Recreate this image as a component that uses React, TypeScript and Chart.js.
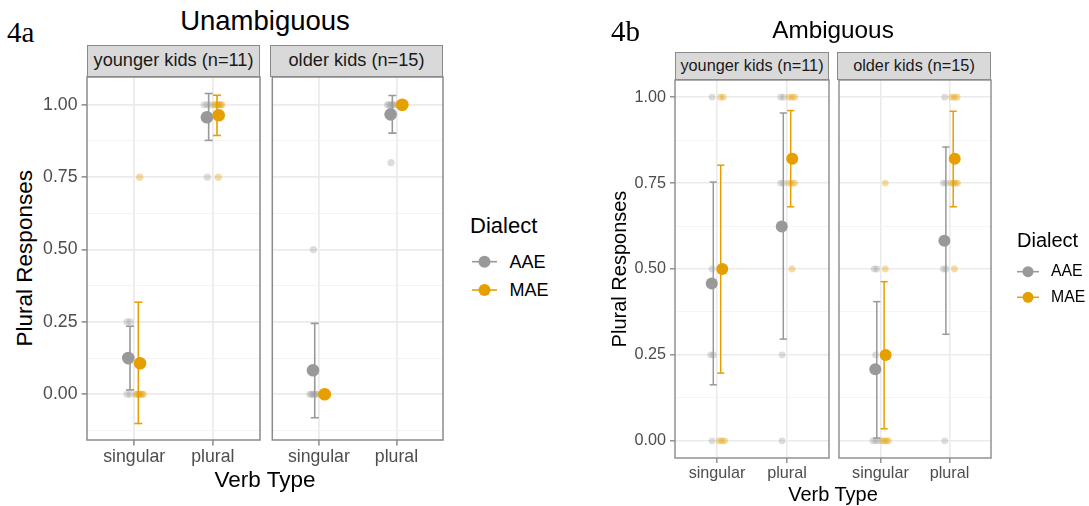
import React, { useEffect, useRef } from 'react';
import { Chart, registerables } from 'chart.js';

Chart.register(...registerables);

const SANS = '"Liberation Sans", Arial, Helvetica, sans-serif';
const SERIF = '"Liberation Serif", "Times New Roman", serif';

// ---------------- data ----------------
const CATEGORIES = ['singular', 'plural'];
const DIALECTS = ['AAE', 'MAE'];
const FACETS = ['younger kids (n=11)', 'older kids (n=15)'];
const Y_TICK_VALUES = [0, 0.25, 0.5, 0.75, 1];
const Y_TICK_LABELS = ['0.00', '0.25', '0.50', '0.75', '1.00'];

// 4a Unambiguous — values per category [singular, plural]
const UNAMB_YOUNG_AAE_MEAN = [0.125, 0.957];
const UNAMB_YOUNG_AAE_LO = [0.015, 0.877];
const UNAMB_YOUNG_AAE_HI = [0.235, 1.039];
const UNAMB_YOUNG_MAE_MEAN = [0.107, 0.964];
const UNAMB_YOUNG_MAE_LO = [-0.101, 0.894];
const UNAMB_YOUNG_MAE_HI = [0.318, 1.033];
const UNAMB_YOUNG_AAE_RAW = [[0.25, 0.25, 0, 0], [1, 1, 1, 0.75]];
const UNAMB_YOUNG_MAE_RAW = [[0.75, 0, 0, 0, 0, 0, 0], [1, 1, 1, 1, 1, 1, 0.75]];

const UNAMB_OLD_AAE_MEAN = [0.083, 0.967];
const UNAMB_OLD_AAE_LO = [-0.081, 0.902];
const UNAMB_OLD_AAE_HI = [0.245, 1.032];
const UNAMB_OLD_MAE_MEAN = [0, 1];
const UNAMB_OLD_MAE_LO = [0, 1];
const UNAMB_OLD_MAE_HI = [0, 1];
const UNAMB_OLD_AAE_RAW = [[0.5, 0, 0, 0, 0, 0], [1, 1, 1, 1, 1, 0.8]];
const UNAMB_OLD_MAE_RAW = [[0, 0, 0, 0, 0, 0, 0, 0, 0], [1, 1, 1, 1, 1, 1, 1, 1, 1]];

// 4b Ambiguous
const AMB_YOUNG_AAE_MEAN = [0.458, 0.624];
const AMB_YOUNG_AAE_LO = [0.163, 0.296];
const AMB_YOUNG_AAE_HI = [0.753, 0.954];
const AMB_YOUNG_MAE_MEAN = [0.5, 0.821];
const AMB_YOUNG_MAE_LO = [0.197, 0.681];
const AMB_YOUNG_MAE_HI = [0.802, 0.961];
const AMB_YOUNG_AAE_RAW = [[1, 0.5, 0.25, 0.25, 0], [1, 1, 0.75, 0.75, 0.25, 0]];
const AMB_YOUNG_MAE_RAW = [[1, 1, 0.5, 0, 0, 0], [1, 1, 1, 0.75, 0.75, 0.75, 0.5]];

const AMB_OLD_AAE_MEAN = [0.208, 0.582];
const AMB_OLD_AAE_LO = [0.008, 0.31];
const AMB_OLD_AAE_HI = [0.405, 0.855];
const AMB_OLD_MAE_MEAN = [0.25, 0.821];
const AMB_OLD_MAE_LO = [0.035, 0.681];
const AMB_OLD_MAE_HI = [0.463, 0.959];
const AMB_OLD_AAE_RAW = [[0.5, 0.5, 0.25, 0, 0, 0], [1, 0.75, 0.75, 0.5, 0.5, 0]];
const AMB_OLD_MAE_RAW = [[0.75, 0.5, 0.25, 0, 0, 0, 0], [1, 1, 1, 0.75, 0.75, 0.75, 0.75, 0.5]];

// ---------------- styles ----------------
const DIALECT_COLORS = ['#999999', '#E69F00'];
const RAW_COLORS = ['rgba(153,153,153,0.33)', 'rgba(230,159,0,0.36)'];
const FRAME = '#8a8a8a';
const GRID_MAJOR = '#ebebeb';
const GRID_MINOR = '#f2f2f2';
const TICK_TEXT = '#4d4d4d';
const MEAN_DODGE = 0.075;
const ERR_DODGE = 0.053;
const RAW_DODGE = 0.07;
const RAW_SPREAD = 0.09;

type Panel = {
  mean: number[][]; lo: number[][]; hi: number[][]; raw: number[][][];
};

const UNAMB_PANELS: Panel[] = [
  { mean: [UNAMB_YOUNG_AAE_MEAN, UNAMB_YOUNG_MAE_MEAN], lo: [UNAMB_YOUNG_AAE_LO, UNAMB_YOUNG_MAE_LO], hi: [UNAMB_YOUNG_AAE_HI, UNAMB_YOUNG_MAE_HI], raw: [UNAMB_YOUNG_AAE_RAW, UNAMB_YOUNG_MAE_RAW] },
  { mean: [UNAMB_OLD_AAE_MEAN, UNAMB_OLD_MAE_MEAN], lo: [UNAMB_OLD_AAE_LO, UNAMB_OLD_MAE_LO], hi: [UNAMB_OLD_AAE_HI, UNAMB_OLD_MAE_HI], raw: [UNAMB_OLD_AAE_RAW, UNAMB_OLD_MAE_RAW] },
];
const AMB_PANELS: Panel[] = [
  { mean: [AMB_YOUNG_AAE_MEAN, AMB_YOUNG_MAE_MEAN], lo: [AMB_YOUNG_AAE_LO, AMB_YOUNG_MAE_LO], hi: [AMB_YOUNG_AAE_HI, AMB_YOUNG_MAE_HI], raw: [AMB_YOUNG_AAE_RAW, AMB_YOUNG_MAE_RAW] },
  { mean: [AMB_OLD_AAE_MEAN, AMB_OLD_MAE_MEAN], lo: [AMB_OLD_AAE_LO, AMB_OLD_MAE_LO], hi: [AMB_OLD_AAE_HI, AMB_OLD_MAE_HI], raw: [AMB_OLD_AAE_RAW, AMB_OLD_MAE_RAW] },
];

type Fig = {
  tag: string; title: string; panels: Panel[];
  lefts: number[]; rights: number[]; top: number; bottom: number; stripTop: number;
  tickFont: number; stripFont: number; titleFont: number; axisFont: number; legTitleFont: number; legFont: number;
  majorW: number; minorW: number; frameW: number; tickLen: number; meanR: number; rawR: number; errW: number; capHalf: number;
  tagX: number; tagBase: number; titleBase: number; xTitleBase: number; yTitleX: number;
  legX: number; legTitleBase: number; keyX1: number; keyX2: number; keyYs: number[]; keyR: number; legTextX: number; legBases: number[];
};

const FIG_A: Fig = {
  tag: '4a', title: 'Unambiguous', panels: UNAMB_PANELS,
  lefts: [87, 270], rights: [260, 443], top: 77, bottom: 440, stripTop: 45,
  tickFont: 17.7, stripFont: 18.2, titleFont: 27.5, axisFont: 22.5, legTitleFont: 22, legFont: 18,
  majorW: 1.8, minorW: 0.9, frameW: 1.5, tickLen: 5.5, meanR: 6.3, rawR: 3.6, errW: 1.6, capHalf: 4,
  tagX: 7, tagBase: 42, titleBase: 30, xTitleBase: 488.3, yTitleX: 24.5,
  legX: 470, legTitleBase: 233.3, keyX1: 472, keyX2: 497, keyYs: [261.7, 290], keyR: 6, legTextX: 509.5, legBases: [268.3, 296.7],
};

const FIG_B: Fig = {
  tag: '4b', title: 'Ambiguous', panels: AMB_PANELS,
  lefts: [675, 837], rights: [829, 991], top: 80, bottom: 458, stripTop: 52,
  tickFont: 16.2, stripFont: 16.3, titleFont: 24.3, axisFont: 20, legTitleFont: 20, legFont: 15.8,
  majorW: 1.6, minorW: 0.8, frameW: 1.4, tickLen: 5, meanR: 6, rawR: 3.4, errW: 1.5, capHalf: 3.6,
  tagX: 611, tagBase: 41.7, titleBase: 38.3, xTitleBase: 500.7, yTitleX: 619,
  legX: 1017, legTitleBase: 246.7, keyX1: 1017, keyX2: 1039, keyYs: [271.7, 297.3], keyR: 5.5, legTextX: 1051, legBases: [276.7, 302.7],
};

function yRange(panels: Panel[]): [number, number] {
  const vals: number[] = [];
  panels.forEach((p) => {
    [p.mean, p.lo, p.hi].forEach((arr) => arr.forEach((a) => vals.push(...a)));
    p.raw.forEach((d) => d.forEach((c) => vals.push(...c)));
  });
  const lo = Math.min(...vals);
  const hi = Math.max(...vals);
  const pad = (hi - lo) * 0.05;
  return [lo - pad, hi + pad];
}

const isMajor = (v: number) => Y_TICK_VALUES.some((t) => Math.abs(t - v) < 1e-9);

const framePlugin = {
  id: 'panelFrame',
  afterDraw(chart: any, _args: any, opts: any) {
    const { ctx, chartArea: a } = chart;
    ctx.save();
    ctx.strokeStyle = opts.color;
    ctx.lineWidth = opts.width;
    ctx.strokeRect(a.left, a.top, a.right - a.left, a.bottom - a.top);
    ctx.restore();
  },
};

function buildDatasets(p: Panel, fig: Fig) {
  const ds: any[] = [];
  DIALECTS.forEach((_, di) => {
    const side = di === 0 ? -1 : 1;
    const color = DIALECT_COLORS[di];
    // raw responses
    const rawPts: { x: number; y: number }[] = [];
    p.raw[di].forEach((vals, ci) => {
      const counts = new Map<number, number>();
      vals.forEach((v) => counts.set(v, (counts.get(v) || 0) + 1));
      const seen = new Map<number, number>();
      vals.forEach((v) => {
        const m = counts.get(v) || 1;
        const k = seen.get(v) || 0;
        seen.set(v, k + 1);
        const step = m > 1 ? Math.min(0.04, RAW_SPREAD / (m - 1)) : 0;
        rawPts.push({ x: ci + 1 + side * RAW_DODGE + (k - (m - 1) / 2) * step, y: v });
      });
    });
    ds.push({ data: rawPts, pointRadius: fig.rawR, pointBackgroundColor: RAW_COLORS[di], pointBorderWidth: 0, order: 5 - di });
    // error bars
    const errPts: any[] = [];
    p.mean[di].forEach((_m, ci) => {
      const x = ci + 1 + side * ERR_DODGE;
      errPts.push({ x, y: p.lo[di][ci] }, { x, y: p.hi[di][ci] }, { x, y: null });
    });
    ds.push({
      data: errPts, showLine: true, spanGaps: false, borderColor: color, borderWidth: fig.errW,
      pointStyle: 'line', pointRadius: fig.capHalf, pointBorderColor: color, pointBorderWidth: fig.errW,
      pointBackgroundColor: color, order: 3 - di,
    });
    // means
    ds.push({
      data: p.mean[di].map((v, ci) => ({ x: ci + 1 + side * MEAN_DODGE, y: v })),
      pointRadius: fig.meanR, pointBackgroundColor: color, pointBorderWidth: 0, order: 1 - di,
    });
  });
  return ds;
}

const PAD_T = 18;
const PAD_R = 8;
const BOTTOM_H = 34;
const LEFT_W = 50;

function PanelChart({ fig, index, yMin, yMax }: { fig: Fig; index: number; yMin: number; yMax: number }) {
  const ref = useRef<HTMLCanvasElement>(null);
  const showY = index === 0;
  const leftW = showY ? LEFT_W : 0;
  const padL = showY ? 0 : 4;
  const L = fig.lefts[index];
  const R = fig.rights[index];
  const width = padL + leftW + (R - L) + PAD_R;
  const height = PAD_T + (fig.bottom - fig.top) + BOTTOM_H;
  const left = L - leftW - padL;
  const top = fig.top - PAD_T;

  useEffect(() => {
    if (!ref.current) return;
    const yTicks: number[] = [];
    for (let v = Math.ceil(yMin * 8) / 8; v <= yMax + 1e-9; v += 0.125) yTicks.push(Math.round(v * 1000) / 1000);
    const font = { family: SANS, size: fig.tickFont };
    const chart = new Chart(ref.current, {
      type: 'scatter',
      data: { datasets: buildDatasets(fig.panels[index], fig) },
      plugins: [framePlugin],
      options: {
        animation: false,
        responsive: false,
        maintainAspectRatio: false,
        devicePixelRatio: 1,
        events: [],
        layout: { padding: { top: PAD_T, right: PAD_R, left: padL, bottom: 0 } },
        plugins: {
          legend: { display: false },
          tooltip: { enabled: false },
          title: { display: false },
          panelFrame: { color: FRAME, width: fig.frameW },
        } as any,
        scales: {
          x: {
            type: 'linear', position: 'bottom', min: 0.4, max: 2.6,
            afterBuildTicks: (s: any) => { s.ticks = CATEGORIES.map((_, i) => ({ value: i + 1 })); },
            afterFit: (s: any) => { s.height = BOTTOM_H; },
            ticks: {
              autoSkip: false, maxRotation: 0, minRotation: 0, padding: 1, color: TICK_TEXT, font,
              callback: (v: any) => CATEGORIES[Math.round(Number(v)) - 1] ?? '',
            },
            grid: { color: GRID_MAJOR, lineWidth: fig.majorW, drawTicks: true, tickLength: fig.tickLen, tickColor: FRAME, tickWidth: fig.frameW },
            border: { display: false },
          },
          y: {
            type: 'linear', position: 'left', min: yMin, max: yMax,
            afterBuildTicks: (s: any) => { s.ticks = yTicks.map((v) => ({ value: v })); },
            afterFit: (s: any) => { s.width = leftW; },
            ticks: {
              display: showY, autoSkip: false, padding: 4, color: TICK_TEXT, font,
              callback: (v: any) => {
                const i = Y_TICK_VALUES.findIndex((t) => Math.abs(t - Number(v)) < 1e-9);
                return i >= 0 ? Y_TICK_LABELS[i] : '';
              },
            },
            grid: {
              color: (c: any) => (c.tick && isMajor(c.tick.value) ? GRID_MAJOR : GRID_MINOR),
              lineWidth: (c: any) => (c.tick && isMajor(c.tick.value) ? fig.majorW : fig.minorW),
              drawTicks: showY, tickLength: fig.tickLen,
              tickColor: (c: any) => (c.tick && isMajor(c.tick.value) ? FRAME : 'rgba(0,0,0,0)'),
              tickWidth: fig.frameW,
            },
            border: { display: false },
          },
        },
      } as any,
    });
    return () => chart.destroy();
  }, [fig, index, yMin, yMax]);

  return (
    <canvas
      ref={ref}
      width={width}
      height={height}
      style={{ position: 'absolute', left, top, width, height }}
    />
  );
}

function Text({ x, base, size, text, align = 'left', family = SANS, color = '#000', asc = 0.8465 }: any) {
  const w = 300;
  return (
    <div
      style={{
        position: 'absolute', left: align === 'center' ? x - w / 2 : x, top: base - asc * size,
        width: align === 'center' ? w : undefined, fontFamily: family, fontSize: size,
        lineHeight: `${size}px`, color, textAlign: align, whiteSpace: 'nowrap',
      }}
    >
      {text}
    </div>
  );
}

function VText({ cx, cy, size, text }: any) {
  const w = 300;
  return (
    <div
      style={{
        position: 'absolute', left: cx - w / 2, top: cy - size / 2, width: w, height: size,
        lineHeight: `${size}px`, fontSize: size, fontFamily: SANS, color: '#000',
        textAlign: 'center', transform: 'rotate(-90deg)', whiteSpace: 'nowrap',
      }}
    >
      {text}
    </div>
  );
}

function Figure({ fig }: { fig: Fig }) {
  const [yMin, yMax] = yRange(fig.panels);
  const stripH = fig.top - fig.stripTop;
  const cx = (fig.lefts[0] + fig.rights[fig.rights.length - 1]) / 2;
  const cy = (fig.top + fig.bottom) / 2;
  return (
    <>
      {fig.panels.map((_, i) => (
        <PanelChart key={i} fig={fig} index={i} yMin={yMin} yMax={yMax} />
      ))}
      {FACETS.map((f, i) => (
        <div
          key={f}
          style={{
            position: 'absolute', left: fig.lefts[i], top: fig.stripTop, width: fig.rights[i] - fig.lefts[i],
            height: stripH, boxSizing: 'border-box', background: '#d9d9d9', border: `${fig.frameW}px solid ${FRAME}`,
            fontFamily: SANS, fontSize: fig.stripFont, lineHeight: `${stripH - 2 * fig.frameW}px`,
            textAlign: 'center', color: '#1a1a1a', whiteSpace: 'nowrap',
          }}
        >
          {f}
        </div>
      ))}
      <Text x={fig.tagX} base={fig.tagBase} size={29} text={fig.tag} family={SERIF} asc={0.8375} />
      <Text x={cx} base={fig.titleBase} size={fig.titleFont} text={fig.title} align="center" />
      <Text x={cx} base={fig.xTitleBase} size={fig.axisFont} text="Verb Type" align="center" />
      <VText cx={fig.yTitleX} cy={cy} size={fig.axisFont} text="Plural Responses" />
      <Text x={fig.legX} base={fig.legTitleBase} size={fig.legTitleFont} text="Dialect" />
      {DIALECTS.map((d, i) => (
        <Text key={d} x={fig.legTextX} base={fig.legBases[i]} size={fig.legFont} text={d} />
      ))}
      <svg style={{ position: 'absolute', left: 0, top: 0, pointerEvents: 'none' }} width={1089} height={506}>
        {DIALECTS.map((d, i) => (
          <g key={d}>
            <line x1={fig.keyX1} x2={fig.keyX2} y1={fig.keyYs[i]} y2={fig.keyYs[i]} stroke={DIALECT_COLORS[i]} strokeWidth={fig.errW} />
            <circle cx={(fig.keyX1 + fig.keyX2) / 2} cy={fig.keyYs[i]} r={fig.keyR} fill={DIALECT_COLORS[i]} />
          </g>
        ))}
      </svg>
    </>
  );
}

export default function App() {
  return (
    <div style={{ position: 'absolute', left: 0, top: 0, width: 1089, height: 506, background: '#fff', overflow: 'hidden' }}>
      <Figure fig={FIG_A} />
      <Figure fig={FIG_B} />
    </div>
  );
}
